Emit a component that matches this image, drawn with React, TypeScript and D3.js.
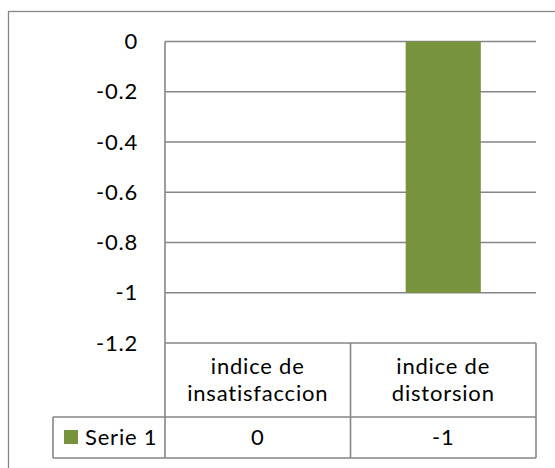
import * as d3 from "d3";

const categories = ["indice de\ninsatisfaccion", "indice de\ndistorsion"];
const seriesName = "Serie 1";
const seriesValues = [0, -1];
const yTicks = [0, -0.2, -0.4, -0.6, -0.8, -1, -1.2];

const W = 555;
const H = 468;
const plot = { left: 165, right: 536, top: 41.5, bottom: 343 };
const tableRow1 = 417;
const tableRow2 = 458;
const legendLeft = 53;
const font = "Lato, sans-serif";
const fs = 22;
const ls = 0.8;
const grey = "#868686";
const green = "#77933C";

export default function App() {
  const x = d3.scaleBand().domain(categories).range([plot.left, plot.right]);
  const y = d3.scaleLinear().domain([-1.2, 0]).range([plot.bottom, plot.top]);
  const barW = x.bandwidth() * 0.405;
  const lineGap = 27;
  const catMid = (plot.bottom + tableRow1) / 2;

  return (
    <div style={{ position: "absolute", left: 0, top: 0 }}>
      <svg width={W} height={H} style={{ display: "block", fontFamily: font, letterSpacing: ls }}>
        <rect x={0} y={0} width={W} height={H} fill="#fff" />
        {/* outer frame */}
        <rect x={8.5} y={11.5} width={W + 10} height={H + 10} fill="none" stroke={grey} strokeWidth={1.3} />

        {/* gridlines */}
        {yTicks.map((t) => (
          <line key={t} x1={plot.left} x2={plot.right} y1={y(t)} y2={y(t)} stroke={grey} strokeWidth={1.6} />
        ))}

        {/* bars */}
        {seriesValues.map((v, i) => (
          <rect
            key={i}
            x={x(categories[i])! + (x.bandwidth() - barW) / 2}
            y={y(Math.max(0, v))}
            width={barW}
            height={Math.abs(y(v) - y(0))}
            fill={green}
          />
        ))}

        {/* y tick labels */}
        {yTicks.map((t) => (
          <text key={t} x={138} y={y(t)} dy="0.35em" textAnchor="end" fontSize={fs} fill="#000">
            {d3.format("")(t).replace("−", "-")}
          </text>
        ))}

        {/* axis line */}
        <line x1={plot.left} x2={plot.left} y1={plot.top} y2={tableRow2} stroke={grey} strokeWidth={1.6} />

        {/* data table */}
        <line x1={plot.right} x2={plot.right} y1={plot.bottom} y2={tableRow2} stroke={grey} strokeWidth={1.6} />
        {categories.slice(1).map((c) => (
          <line key={c} x1={x(c)!} x2={x(c)!} y1={plot.bottom} y2={tableRow2} stroke={grey} strokeWidth={1.6} />
        ))}
        <line x1={legendLeft} x2={plot.right} y1={tableRow1} y2={tableRow1} stroke={grey} strokeWidth={1.6} />
        <line x1={legendLeft} x2={plot.right} y1={tableRow2} y2={tableRow2} stroke={grey} strokeWidth={1.6} />
        <line x1={legendLeft} x2={legendLeft} y1={tableRow1} y2={tableRow2} stroke={grey} strokeWidth={1.6} />

        {categories.map((c) => {
          const lines = c.split("\n");
          const cx = x(c)! + x.bandwidth() / 2;
          return (
            <text key={c} x={cx} textAnchor="middle" fontSize={fs} fill="#000">
              {lines.map((line, j) => (
                <tspan key={j} x={cx} y={catMid + (j - (lines.length - 1) / 2) * lineGap} dy="0.35em">
                  {line}
                </tspan>
              ))}
            </text>
          );
        })}

        <rect x={64} y={430} width={14} height={14} fill={green} />
        <text x={85} y={437.5} dy="0.35em" fontSize={fs} fill="#000">
          {seriesName}
        </text>
        {seriesValues.map((v, i) => (
          <text key={i} x={x(categories[i])! + x.bandwidth() / 2} y={437.5} dy="0.35em" textAnchor="middle" fontSize={fs} fill="#000">
            {String(v)}
          </text>
        ))}
      </svg>
    </div>
  );
}
